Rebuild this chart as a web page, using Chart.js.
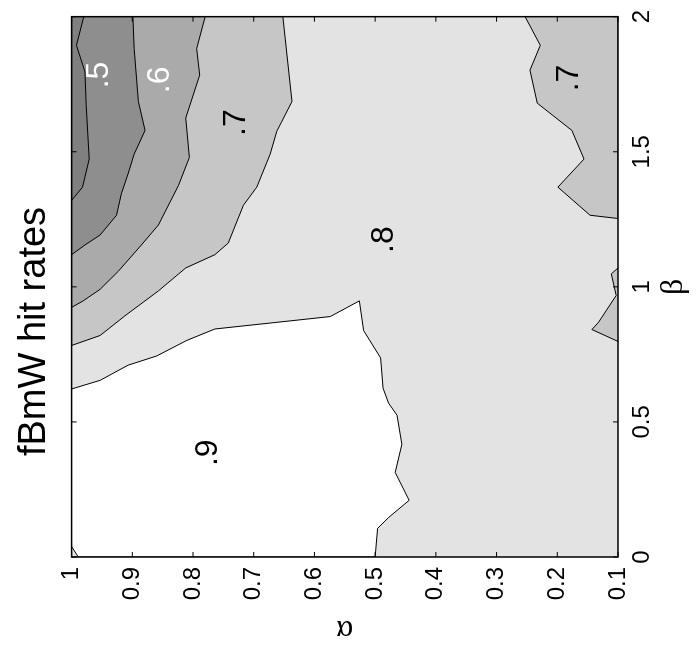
<!DOCTYPE html>
<html>
<head>
<meta charset="utf-8">
<script src="https://cdn.jsdelivr.net/npm/chart.js@4.4.0/dist/chart.umd.min.js"></script>
<style>
html, body { margin: 0; padding: 0; background: #fff; overflow: hidden; }
/* the figure is drawn upright, then turned a quarter turn like the original */
#wrap { position: absolute; left: 0; top: 0; width: 652px; height: 698px;
        transform-origin: 0 0; transform: translate(0, 652px) rotate(-90deg); }
</style>
</head>
<body>
<div id="wrap"><canvas id="c" width="652" height="698"></canvas></div>
<script>
// axes: x = beta (0..2), y = alpha (0.1..1)
const betaTicks = [0, 0.5, 1, 1.5, 2];
const betaTickLabels = ['0', '0.5', '1', '1.5', '2'];
const alphaTicks = [0.1, 0.2, 0.3, 0.4, 0.5, 0.6, 0.7, 0.8, 0.9, 1];
const alphaTickLabels = ['0.1', '0.2', '0.3', '0.4', '0.5', '0.6', '0.7', '0.8', '0.9', '1'];

// contour regions (beta, alpha)
const betaLow = [2, 1.894, 1.796, 1.674, 1.473, 1.369, 1.32, 2];
const alphaLow = [0.98, 0.992, 0.978, 0.976, 0.971, 0.982, 1, 1];

const beta5 = [2, 1.883, 1.686, 1.579, 1.491, 1.418, 1.345, 1.265, 1.192, 1.155, 1.119, 2];
const alpha5 = [0.899, 0.897, 0.890, 0.879, 0.897, 0.907, 0.918, 0.926, 0.953, 0.978, 1, 1];

const beta6 = [2, 1.882, 1.784, 1.625, 1.479, 1.375, 1.229, 1.155, 1.058, 0.991, 0.948, 0.924, 2];
const alpha6 = [0.780, 0.794, 0.789, 0.812, 0.806, 0.824, 0.857, 0.885, 0.923, 0.953, 0.981, 1, 1];

const beta7 = [2, 1.686, 1.576, 1.491, 1.369, 1.302, 1.162, 1.119, 1.070, 0.985, 0.893, 0.820, 0.783, 2];
const alpha7 = [0.652, 0.637, 0.662, 0.673, 0.695, 0.717, 0.742, 0.764, 0.812, 0.857, 0.912, 0.953, 1, 1];

const beta7b = [2, 1.894, 1.802, 1.680, 1.579, 1.473, 1.369, 1.265, 1.253, 2];
const alpha7b = [0.253, 0.228, 0.245, 0.233, 0.176, 0.156, 0.199, 0.146, 0.1, 0.1];

const beta7c = [1.070, 1.048, 0.968, 0.869, 0.842, 0.798];
const alpha7c = [0.1, 0.111, 0.103, 0.132, 0.143, 0.1];

const beta9 = [0.622, 0.654, 0.710, 0.744, 0.802, 0.844, 0.890, 0.948, 0.838, 0.737, 0.625, 0.570,
               0.525, 0.417, 0.313, 0.210, 0.146, 0.106, 0, 0, 0.039];
const alpha9 = [1, 0.953, 0.907, 0.860, 0.810, 0.764, 0.574, 0.526, 0.519, 0.491, 0.487, 0.478,
                0.464, 0.456, 0.467, 0.444, 0.478, 0.496, 0.500, 0.989, 1];

// contour labels
const labelText = ['.5', '.6', '.7', '.8', '.9', '.7'];
const labelBeta = [1.784, 1.766, 1.608, 1.175, 0.386, 1.773];
const labelAlpha = [0.955, 0.854, 0.729, 0.485, 0.775, 0.180];
const labelColor = ['#fff', '#fff', '#000', '#000', '#000', '#000'];

const FONT = "'Liberation Sans', Arial, Helvetica, sans-serif";
const GREEK = "'Liberation Serif', 'DejaVu Serif', serif";

function region(beta, alpha, color, order) {
    return {
        data: beta.map((b, i) => ({x: b, y: alpha[i]})),
        backgroundColor: color,
        borderColor: '#000',
        borderWidth: 1,
        fill: 'shape',
        pointRadius: 0,
        order: order
    };
}

// background level (.8) + frame, inner ticks and contour labels
const decor = {
    id: 'decor',
    beforeDatasetsDraw(chart) {
        const a = chart.chartArea, ctx = chart.ctx;
        ctx.save();
        ctx.fillStyle = '#e3e3e3';
        ctx.fillRect(a.left, a.top, a.right - a.left, a.bottom - a.top);
        ctx.restore();
    },
    afterDatasetsDraw(chart) {
        const a = chart.chartArea, ctx = chart.ctx;
        const xs = chart.scales.x, ys = chart.scales.y;
        ctx.save();
        ctx.font = '32px ' + FONT;
        ctx.textAlign = 'center';
        ctx.textBaseline = 'middle';
        labelText.forEach((t, i) => {
            ctx.fillStyle = labelColor[i];
            ctx.fillText(t, xs.getPixelForValue(labelBeta[i]), ys.getPixelForValue(labelAlpha[i]));
        });
        ctx.strokeStyle = '#000';
        ctx.lineWidth = 1;
        ctx.beginPath();
        betaTicks.forEach(v => {
            const x = xs.getPixelForValue(v);
            ctx.moveTo(x, a.bottom); ctx.lineTo(x, a.bottom - 5);
            ctx.moveTo(x, a.top); ctx.lineTo(x, a.top + 5);
        });
        alphaTicks.forEach(v => {
            const y = ys.getPixelForValue(v);
            ctx.moveTo(a.left, y); ctx.lineTo(a.left + 5, y);
            ctx.moveTo(a.right, y); ctx.lineTo(a.right - 5, y);
        });
        ctx.stroke();
        ctx.lineWidth = 1.5;
        ctx.strokeRect(a.left, a.top, a.right - a.left, a.bottom - a.top);
        ctx.restore();
    }
};

new Chart(document.getElementById('c'), {
    type: 'line',
    data: {
        datasets: [
            region(betaLow, alphaLow, '#808080', 1),
            region(beta5, alpha5, '#8e8e8e', 2),
            region(beta6, alpha6, '#aaaaaa', 3),
            region(beta7, alpha7, '#c6c6c6', 4),
            region(beta7b, alpha7b, '#c6c6c6', 5),
            region(beta7c, alpha7c, '#c6c6c6', 6),
            region(beta9, alpha9, '#ffffff', 7)
        ]
    },
    options: {
        responsive: false,
        animation: false,
        layout: {padding: {top: 0, right: 11, bottom: 0, left: 0}},
        plugins: {
            legend: {display: false},
            tooltip: {enabled: false},
            title: {
                display: true,
                text: 'fBmW hit rates',
                color: '#000',
                font: {family: FONT, size: 38, weight: 'normal'},
                padding: {top: 12, bottom: 14}
            }
        },
        scales: {
            x: {
                type: 'linear',
                position: 'bottom',
                min: 0, max: 2,
                afterBuildTicks: s => { s.ticks = betaTicks.map(v => ({value: v})); },
                afterFit: s => { s.height = 80; },
                grid: {display: false, drawTicks: false},
                border: {display: false},
                ticks: {
                    color: '#000', font: {family: FONT, size: 24}, padding: 10,
                    maxRotation: 0, autoSkip: false,
                    callback: (v, i) => betaTickLabels[i]
                },
                title: {display: true, text: 'β', color: '#000',
                        font: {family: GREEK, size: 32},
                        padding: {top: 0, bottom: 5}}
            },
            y: {
                type: 'linear',
                position: 'left',
                min: 0.1, max: 1,
                afterBuildTicks: s => { s.ticks = alphaTicks.map(v => ({value: v})); },
                afterFit: s => { s.width = 95; },
                grid: {display: false, drawTicks: false},
                border: {display: false},
                ticks: {
                    color: '#000', font: {family: FONT, size: 24}, padding: 10,
                    autoSkip: false,
                    callback: (v, i) => alphaTickLabels[i]
                },
                title: {display: true, text: 'α', color: '#000',
                        font: {family: GREEK, size: 32},
                        padding: {top: 3, bottom: 0}}
            }
        }
    },
    plugins: [decor]
});
</script>
</body>
</html>
